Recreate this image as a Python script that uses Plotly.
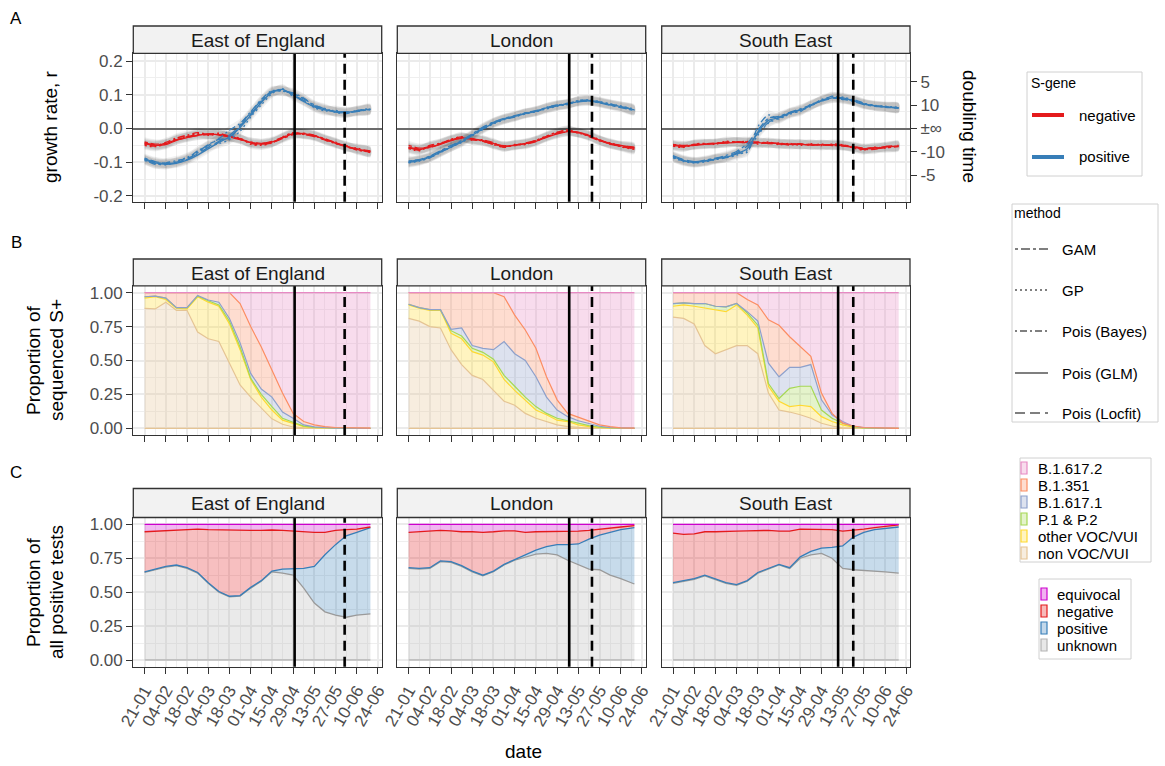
import math
import plotly.graph_objects as go

# ---------------------------------------------------------------- data
DATES = ["2021-01-21", "2021-01-28", "2021-02-04", "2021-02-11", "2021-02-18", "2021-02-25",
         "2021-03-04", "2021-03-11", "2021-03-18", "2021-03-25", "2021-04-01", "2021-04-08",
         "2021-04-15", "2021-04-22", "2021-04-29", "2021-05-06", "2021-05-13", "2021-05-20",
         "2021-05-27", "2021-06-03", "2021-06-10", "2021-06-19"]
REGIONS = ["East of England", "London", "South East"]
METHODS = ["GAM", "GP", "Pois (Bayes)", "Pois (GLM)", "Pois (Locfit)"]

# growth rate r by region, S-gene status and estimation method
EOE_NEG_GAM = [-0.040, -0.046, -0.044, -0.033, -0.024, -0.018, -0.016, -0.019, -0.024, -0.031, -0.040, -0.044, -0.041, -0.030, -0.018, -0.014, -0.020, -0.030, -0.042, -0.052, -0.061, -0.070]
EOE_NEG_GP = [-0.050, -0.054, -0.046, -0.030, -0.024, -0.015, -0.020, -0.016, -0.026, -0.028, -0.047, -0.050, -0.043, -0.025, -0.012, -0.018, -0.020, -0.035, -0.040, -0.056, -0.058, -0.072]
EOE_NEG_BAYES = [-0.047, -0.052, -0.041, -0.028, -0.020, -0.012, -0.017, -0.014, -0.024, -0.030, -0.044, -0.048, -0.042, -0.027, -0.013, -0.017, -0.021, -0.034, -0.045, -0.050, -0.064, -0.069]
EOE_NEG_GLM = [-0.045, -0.050, -0.048, -0.035, -0.027, -0.020, -0.017, -0.018, -0.022, -0.032, -0.042, -0.046, -0.040, -0.028, -0.015, -0.015, -0.022, -0.032, -0.043, -0.053, -0.062, -0.068]
EOE_NEG_LOCFIT = [-0.043, -0.048, -0.045, -0.034, -0.026, -0.021, -0.018, -0.020, -0.025, -0.033, -0.041, -0.044, -0.038, -0.026, -0.017, -0.017, -0.024, -0.033, -0.044, -0.054, -0.060, -0.066]

EOE_POS_GAM = [-0.088, -0.098, -0.103, -0.101, -0.092, -0.070, -0.048, -0.032, -0.030, 0.010, 0.047, 0.084, 0.110, 0.112, 0.104, 0.088, 0.070, 0.058, 0.049, 0.046, 0.050, 0.057]
EOE_POS_GP = [-0.095, -0.104, -0.108, -0.099, -0.085, -0.072, -0.052, -0.045, -0.033, -0.008, 0.034, 0.070, 0.103, 0.118, 0.095, 0.083, 0.062, 0.052, 0.054, 0.047, 0.053, 0.060]
EOE_POS_BAYES = [-0.091, -0.106, -0.102, -0.095, -0.088, -0.066, -0.050, -0.030, -0.005, 0.015, 0.050, 0.086, 0.112, 0.110, 0.106, 0.090, 0.068, 0.060, 0.048, 0.044, 0.054, 0.055]
EOE_POS_GLM = [-0.093, -0.102, -0.106, -0.103, -0.094, -0.079, -0.060, -0.041, -0.025, 0.003, 0.039, 0.077, 0.107, 0.116, 0.099, 0.080, 0.064, 0.055, 0.051, 0.049, 0.051, 0.058]
EOE_POS_LOCFIT = [-0.090, -0.100, -0.104, -0.100, -0.090, -0.075, -0.056, -0.038, -0.020, 0.008, 0.043, 0.080, 0.108, 0.113, 0.101, 0.083, 0.066, 0.056, 0.050, 0.049, 0.052, 0.056]

LON_NEG_GAM = [-0.050, -0.058, -0.056, -0.046, -0.034, -0.027, -0.030, -0.038, -0.047, -0.052, -0.051, -0.044, -0.036, -0.024, -0.014, -0.008, -0.012, -0.024, -0.036, -0.046, -0.053, -0.060]
LON_NEG_GP = [-0.060, -0.066, -0.052, -0.043, -0.033, -0.024, -0.035, -0.033, -0.048, -0.055, -0.047, -0.048, -0.035, -0.022, -0.012, -0.004, -0.014, -0.019, -0.037, -0.042, -0.054, -0.062]
LON_NEG_BAYES = [-0.058, -0.064, -0.050, -0.044, -0.032, -0.025, -0.034, -0.035, -0.042, -0.056, -0.048, -0.046, -0.039, -0.023, -0.011, -0.006, -0.013, -0.020, -0.033, -0.047, -0.052, -0.059]
LON_NEG_GLM = [-0.057, -0.063, -0.055, -0.047, -0.036, -0.028, -0.031, -0.036, -0.044, -0.053, -0.050, -0.045, -0.038, -0.026, -0.016, -0.009, -0.011, -0.021, -0.034, -0.044, -0.050, -0.057]
LON_NEG_LOCFIT = [-0.055, -0.060, -0.053, -0.045, -0.035, -0.029, -0.032, -0.038, -0.046, -0.051, -0.049, -0.043, -0.036, -0.025, -0.015, -0.010, -0.012, -0.022, -0.035, -0.045, -0.051, -0.055]

LON_POS_GAM = [-0.096, -0.092, -0.082, -0.066, -0.050, -0.035, -0.016, 0.004, 0.019, 0.030, 0.038, 0.046, 0.053, 0.062, 0.069, 0.075, 0.081, 0.082, 0.076, 0.069, 0.062, 0.053]
LON_POS_GP = [-0.102, -0.097, -0.086, -0.072, -0.054, -0.042, -0.022, -0.003, 0.014, 0.026, 0.035, 0.043, 0.050, 0.058, 0.066, 0.072, 0.082, 0.085, 0.080, 0.073, 0.066, 0.058]
LON_POS_BAYES = [-0.101, -0.094, -0.087, -0.069, -0.056, -0.038, -0.019, 0.000, 0.017, 0.027, 0.034, 0.046, 0.049, 0.063, 0.070, 0.071, 0.083, 0.084, 0.079, 0.072, 0.067, 0.054]
LON_POS_GLM = [-0.100, -0.095, -0.085, -0.070, -0.055, -0.040, -0.020, -0.001, 0.016, 0.028, 0.036, 0.044, 0.051, 0.061, 0.068, 0.073, 0.080, 0.083, 0.078, 0.071, 0.065, 0.055]
LON_POS_LOCFIT = [-0.098, -0.093, -0.083, -0.068, -0.052, -0.037, -0.018, 0.002, 0.018, 0.029, 0.037, 0.045, 0.052, 0.060, 0.067, 0.074, 0.079, 0.081, 0.077, 0.070, 0.064, 0.056]

SE_NEG_GAM = [-0.047, -0.050, -0.048, -0.046, -0.044, -0.042, -0.040, -0.040, -0.041, -0.042, -0.044, -0.046, -0.047, -0.048, -0.049, -0.050, -0.052, -0.056, -0.062, -0.060, -0.057, -0.054]
SE_NEG_GP = [-0.052, -0.056, -0.046, -0.044, -0.047, -0.038, -0.040, -0.038, -0.046, -0.040, -0.048, -0.044, -0.050, -0.045, -0.051, -0.046, -0.048, -0.058, -0.064, -0.055, -0.058, -0.050]
SE_NEG_BAYES = [-0.051, -0.055, -0.047, -0.045, -0.043, -0.040, -0.039, -0.043, -0.040, -0.045, -0.043, -0.049, -0.045, -0.050, -0.046, -0.051, -0.049, -0.053, -0.061, -0.062, -0.053, -0.053]
SE_NEG_GLM = [-0.050, -0.053, -0.050, -0.047, -0.045, -0.043, -0.041, -0.041, -0.042, -0.043, -0.045, -0.047, -0.047, -0.049, -0.048, -0.048, -0.050, -0.055, -0.060, -0.058, -0.055, -0.052]
SE_NEG_LOCFIT = [-0.048, -0.051, -0.049, -0.046, -0.044, -0.042, -0.041, -0.042, -0.043, -0.044, -0.046, -0.046, -0.046, -0.047, -0.048, -0.049, -0.051, -0.054, -0.058, -0.057, -0.054, -0.050]

SE_POS_GAM = [-0.085, -0.096, -0.099, -0.094, -0.088, -0.080, -0.068, -0.045, -0.005, 0.030, 0.036, 0.048, 0.058, 0.070, 0.084, 0.090, 0.088, 0.080, 0.071, 0.066, 0.064, 0.060]
SE_POS_GP = [-0.087, -0.098, -0.102, -0.099, -0.092, -0.087, -0.079, -0.065, -0.020, 0.016, 0.030, 0.042, 0.053, 0.066, 0.086, 0.094, 0.093, 0.085, 0.074, 0.069, 0.066, 0.063]
SE_POS_BAYES = [-0.082, -0.094, -0.101, -0.098, -0.091, -0.086, -0.074, -0.070, 0.005, 0.040, 0.028, 0.047, 0.050, 0.072, 0.080, 0.096, 0.086, 0.086, 0.075, 0.067, 0.063, 0.061]
SE_POS_GLM = [-0.083, -0.095, -0.100, -0.097, -0.090, -0.085, -0.075, -0.060, -0.011, 0.024, 0.032, 0.045, 0.055, 0.068, 0.083, 0.091, 0.091, 0.083, 0.073, 0.068, 0.065, 0.061]
SE_POS_LOCFIT = [-0.080, -0.092, -0.098, -0.096, -0.089, -0.083, -0.072, -0.052, -0.015, 0.018, 0.034, 0.046, 0.056, 0.069, 0.082, 0.089, 0.090, 0.082, 0.072, 0.067, 0.064, 0.062]

GROWTH = {
    "East of England": {
        "negative": [EOE_NEG_GAM, EOE_NEG_GP, EOE_NEG_BAYES, EOE_NEG_GLM, EOE_NEG_LOCFIT],
        "positive": [EOE_POS_GAM, EOE_POS_GP, EOE_POS_BAYES, EOE_POS_GLM, EOE_POS_LOCFIT]},
    "London": {
        "negative": [LON_NEG_GAM, LON_NEG_GP, LON_NEG_BAYES, LON_NEG_GLM, LON_NEG_LOCFIT],
        "positive": [LON_POS_GAM, LON_POS_GP, LON_POS_BAYES, LON_POS_GLM, LON_POS_LOCFIT]},
    "South East": {
        "negative": [SE_NEG_GAM, SE_NEG_GP, SE_NEG_BAYES, SE_NEG_GLM, SE_NEG_LOCFIT],
        "positive": [SE_POS_GAM, SE_POS_GP, SE_POS_BAYES, SE_POS_GLM, SE_POS_LOCFIT]},
}
CI_HALF_WIDTH = 0.014

# cumulative share of sequenced S+ samples (upper edge of each stacked lineage band)
EOE_SEQ_NONVOC = [0.885, 0.88, 0.93, 0.87, 0.87, 0.71, 0.66, 0.64, 0.48, 0.32, 0.23, 0.15, 0.07, 0.03, 0.01, 0.004, 0.002, 0.001, 0, 0, 0, 0]
EOE_SEQ_OTHER = [0.96, 0.97, 0.95, 0.885, 0.88, 0.97, 0.93, 0.90, 0.77, 0.58, 0.36, 0.23, 0.135, 0.06, 0.037, 0.012, 0.005, 0.002, 0.001, 0, 0, 0]
EOE_SEQ_P1 = [0.97, 0.975, 0.96, 0.89, 0.89, 0.975, 0.94, 0.91, 0.79, 0.60, 0.37, 0.25, 0.16, 0.074, 0.045, 0.016, 0.007, 0.003, 0.001, 0, 0, 0]
EOE_SEQ_B16171 = [0.97, 0.975, 0.96, 0.89, 0.89, 0.98, 0.946, 0.93, 0.81, 0.63, 0.405, 0.29, 0.23, 0.12, 0.074, 0.025, 0.01, 0.004, 0.002, 0.001, 0, 0]
EOE_SEQ_B1351 = [1, 1, 1, 1, 1, 1, 1, 1, 1, 0.92, 0.75, 0.60, 0.43, 0.26, 0.11, 0.05, 0.025, 0.012, 0.006, 0.003, 0.002, 0.001]

LON_SEQ_NONVOC = [0.81, 0.79, 0.75, 0.74, 0.58, 0.47, 0.39, 0.36, 0.28, 0.20, 0.17, 0.11, 0.074, 0.05, 0.025, 0.012, 0.005, 0.002, 0.001, 0, 0, 0]
LON_SEQ_OTHER = [0.91, 0.885, 0.87, 0.87, 0.70, 0.66, 0.565, 0.54, 0.49, 0.36, 0.28, 0.21, 0.135, 0.10, 0.06, 0.05, 0.025, 0.012, 0.005, 0.002, 0.001, 0]
LON_SEQ_P1 = [0.915, 0.89, 0.875, 0.875, 0.72, 0.68, 0.59, 0.56, 0.51, 0.39, 0.31, 0.23, 0.16, 0.11, 0.074, 0.056, 0.037, 0.02, 0.008, 0.003, 0.001, 0]
LON_SEQ_B16171 = [0.915, 0.89, 0.875, 0.875, 0.73, 0.74, 0.61, 0.59, 0.58, 0.64, 0.55, 0.50, 0.38, 0.23, 0.135, 0.086, 0.056, 0.037, 0.015, 0.005, 0.002, 0.001]
LON_SEQ_B1351 = [1, 1, 1, 1, 1, 1, 1, 1, 1, 0.97, 0.835, 0.725, 0.59, 0.38, 0.21, 0.11, 0.08, 0.05, 0.025, 0.012, 0.004, 0.002]

SE_SEQ_NONVOC = [0.82, 0.81, 0.77, 0.61, 0.55, 0.58, 0.61, 0.61, 0.55, 0.26, 0.135, 0.12, 0.10, 0.074, 0.037, 0.017, 0.004, 0.002, 0.001, 0, 0, 0]
SE_SEQ_OTHER = [0.90, 0.91, 0.90, 0.885, 0.87, 0.86, 0.91, 0.835, 0.74, 0.31, 0.20, 0.16, 0.17, 0.16, 0.086, 0.05, 0.025, 0.008, 0.003, 0.001, 0, 0]
SE_SEQ_P1 = [0.92, 0.925, 0.92, 0.92, 0.90, 0.895, 0.92, 0.85, 0.76, 0.33, 0.22, 0.295, 0.31, 0.31, 0.135, 0.074, 0.037, 0.012, 0.004, 0.001, 0, 0]
SE_SEQ_B16171 = [0.92, 0.925, 0.92, 0.92, 0.90, 0.895, 0.92, 0.86, 0.79, 0.48, 0.38, 0.45, 0.45, 0.47, 0.21, 0.10, 0.05, 0.015, 0.005, 0.002, 0.001, 0]
SE_SEQ_B1351 = [1, 1, 1, 1, 1, 1, 1, 0.95, 0.91, 0.80, 0.76, 0.675, 0.60, 0.53, 0.26, 0.11, 0.037, 0.017, 0.006, 0.003, 0.001, 0]

SEQ_TOTAL = 1.0
SEQ = {
    "East of England": [EOE_SEQ_NONVOC, EOE_SEQ_OTHER, EOE_SEQ_P1, EOE_SEQ_B16171, EOE_SEQ_B1351],
    "London": [LON_SEQ_NONVOC, LON_SEQ_OTHER, LON_SEQ_P1, LON_SEQ_B16171, LON_SEQ_B1351],
    "South East": [SE_SEQ_NONVOC, SE_SEQ_OTHER, SE_SEQ_P1, SE_SEQ_B16171, SE_SEQ_B1351],
}
LINEAGES = ["non VOC/VUI", "other VOC/VUI", "P.1 & P.2", "B.1.617.1", "B.1.351", "B.1.617.2"]
LINEAGE_COLORS = ["#E5C494", "#FFD92F", "#A6D854", "#8DA0CB", "#FC8D62", "#E78AC3"]

# cumulative share of all positive tests by S-gene status (upper edge of each band)
EOE_TEST_UNKNOWN = [0.645, 0.665, 0.685, 0.695, 0.675, 0.64, 0.565, 0.50, 0.465, 0.47, 0.53, 0.58, 0.65, 0.64, 0.625, 0.53, 0.42, 0.355, 0.33, 0.315, 0.33, 0.34]
EOE_TEST_POSITIVE = [0.65, 0.67, 0.69, 0.70, 0.68, 0.645, 0.57, 0.505, 0.47, 0.475, 0.535, 0.585, 0.655, 0.67, 0.675, 0.675, 0.69, 0.775, 0.85, 0.915, 0.94, 0.975]
EOE_TEST_NEGATIVE = [0.945, 0.95, 0.955, 0.96, 0.965, 0.965, 0.96, 0.958, 0.955, 0.955, 0.955, 0.955, 0.958, 0.955, 0.95, 0.94, 0.94, 0.94, 0.955, 0.96, 0.965, 0.98]

LON_TEST_UNKNOWN = [0.675, 0.67, 0.675, 0.725, 0.72, 0.69, 0.65, 0.62, 0.65, 0.70, 0.735, 0.76, 0.78, 0.785, 0.775, 0.735, 0.70, 0.67, 0.665, 0.625, 0.60, 0.56]
LON_TEST_POSITIVE = [0.68, 0.675, 0.68, 0.73, 0.725, 0.695, 0.655, 0.625, 0.655, 0.705, 0.74, 0.775, 0.81, 0.835, 0.85, 0.85, 0.855, 0.89, 0.92, 0.94, 0.96, 0.975]
LON_TEST_NEGATIVE = [0.94, 0.945, 0.95, 0.955, 0.952, 0.945, 0.945, 0.94, 0.945, 0.952, 0.952, 0.94, 0.945, 0.945, 0.945, 0.945, 0.95, 0.955, 0.965, 0.975, 0.98, 0.99]

SE_TEST_UNKNOWN = [0.565, 0.58, 0.595, 0.62, 0.59, 0.565, 0.55, 0.58, 0.64, 0.67, 0.70, 0.675, 0.75, 0.775, 0.785, 0.75, 0.675, 0.665, 0.66, 0.66, 0.65, 0.64]
SE_TEST_POSITIVE = [0.57, 0.585, 0.60, 0.625, 0.595, 0.57, 0.555, 0.585, 0.645, 0.675, 0.705, 0.68, 0.76, 0.80, 0.825, 0.83, 0.84, 0.905, 0.94, 0.96, 0.97, 0.98]
SE_TEST_NEGATIVE = [0.935, 0.925, 0.93, 0.945, 0.945, 0.95, 0.95, 0.952, 0.955, 0.955, 0.95, 0.95, 0.965, 0.962, 0.962, 0.96, 0.95, 0.955, 0.965, 0.975, 0.985, 0.995]

TEST_TOTAL = 1.0
TESTS = {
    "East of England": [EOE_TEST_UNKNOWN, EOE_TEST_POSITIVE, EOE_TEST_NEGATIVE],
    "London": [LON_TEST_UNKNOWN, LON_TEST_POSITIVE, LON_TEST_NEGATIVE],
    "South East": [SE_TEST_UNKNOWN, SE_TEST_POSITIVE, SE_TEST_NEGATIVE],
}
SGENE_STATES = ["unknown", "positive", "negative", "equivocal"]
SGENE_STATE_COLORS = ["#B3B3B3", "#377EB8", "#E41A1C", "#CD00CD"]

# reference dates marked in every panel
SOLID_LINE_DATES = ["2021-04-30", "2021-05-07", "2021-05-10"]
DASHED_LINE_DATES = ["2021-06-02", "2021-05-22", "2021-05-20"]

GROWTH_TICKS = [-0.2, -0.1, 0.0, 0.1, 0.2]
GROWTH_TICK_TEXT = ["-0.2", "-0.1", "0.0", "0.1", "0.2"]
DOUBLING_TIMES = [5, 10, None, -10, -5]
DOUBLING_TEXT = ["5", "10", "\u00b1\u221e", "-10", "-5"]
PROP_TICKS = [0, 0.25, 0.5, 0.75, 1.0]
PROP_TICK_TEXT = ["0.00", "0.25", "0.50", "0.75", "1.00"]

GENE_COLORS = {"negative": "#E41A1C", "positive": "#377EB8"}
METHOD_DASH = {
    "GAM": "3px,3px,9px,3px",
    "GP": "2px,3px",
    "Pois (Bayes)": "2px,3px,7px,3px",
    "Pois (GLM)": "solid",
    "Pois (Locfit)": "10px,5px",
}

# ---------------------------------------------------------------- layout geometry
W, H = 1165, 766
FONT = "Liberation Sans, Arial, sans-serif"
COLS = [(133.3, 381.7), (397.3, 645.7), (661.7, 910.0)]
ROWS = [(53.3, 201.7), (285.9, 435.1), (517.5, 666.8)]
STRIPS = [(26.0, 53.3), (259.0, 285.9), (488.5, 517.5)]
X_RANGE = ["2021-01-13 13:00", "2021-06-26 11:00"]
A_RANGE = [-0.217, 0.223]
P_RANGE = [-0.05, 1.05]
DAY_MS = 86400000


def fx(p):
    return p / W


def fy(p):
    return 1 - p / H


def rgba(hex_color, a):
    h = hex_color.lstrip("#")
    return "rgba(%d,%d,%d,%.3f)" % (int(h[0:2], 16), int(h[2:4], 16), int(h[4:6], 16), a)


def xid(k):
    return "x" if k == 1 else "x%d" % k


def yid(k):
    return "y" if k == 1 else "y%d" % k


fig = go.Figure()

# ---------------------------------------------------------------- row A: growth rates
for c, region in enumerate(REGIONS):
    ax = dict(xaxis=xid(c + 1), yaxis=yid(c + 1))
    for gene in ["negative", "positive"]:
        for vals in GROWTH[region][gene]:
            hi = [v + CI_HALF_WIDTH for v in vals]
            lo = [v - CI_HALF_WIDTH for v in vals]
            fig.add_trace(go.Scatter(
                x=DATES + DATES[::-1], y=hi + lo[::-1], fill="toself",
                fillcolor="rgba(0,0,0,0.05)", line=dict(width=0, shape="spline", smoothing=0.8),
                mode="lines", hoverinfo="skip", showlegend=False, **ax))
    for gene in ["negative", "positive"]:
        for m, vals in zip(METHODS, GROWTH[region][gene]):
            fig.add_trace(go.Scatter(
                x=DATES, y=vals, mode="lines",
                line=dict(color=GENE_COLORS[gene], width=1.3, dash=METHOD_DASH[m],
                          shape="spline", smoothing=0.8),
                name="%s %s" % (gene, m), showlegend=False, **ax))

# invisible anchor so the doubling-time axis is drawn
fig.add_trace(go.Scatter(x=[DATES[0]], y=[0], xaxis="x3", yaxis="y10", mode="markers",
                         marker=dict(opacity=0), hoverinfo="skip", showlegend=False))

# ---------------------------------------------------------------- row B: sequenced lineages
for c, region in enumerate(REGIONS):
    k = 3 + c + 1
    ax = dict(xaxis=xid(k), yaxis=yid(k))
    tops = SEQ[region] + [[SEQ_TOTAL] * len(DATES)]
    fig.add_trace(go.Scatter(x=DATES, y=[0] * len(DATES), mode="lines",
                             line=dict(color=LINEAGE_COLORS[0], width=1.2),
                             hoverinfo="skip", showlegend=False, **ax))
    for name, col, top in zip(LINEAGES, LINEAGE_COLORS, tops):
        fig.add_trace(go.Scatter(x=DATES, y=top, mode="lines", fill="tonexty",
                                 fillcolor=rgba(col, 0.3), line=dict(color=col, width=1.2),
                                 name=name, showlegend=False, **ax))

# ---------------------------------------------------------------- row C: S-gene status
for c, region in enumerate(REGIONS):
    k = 6 + c + 1
    ax = dict(xaxis=xid(k), yaxis=yid(k))
    tops = TESTS[region] + [[TEST_TOTAL] * len(DATES)]
    fig.add_trace(go.Scatter(x=DATES, y=[0] * len(DATES), mode="lines",
                             line=dict(color="#A6A6A6", width=1.2),
                             hoverinfo="skip", showlegend=False, **ax))
    for name, col, top in zip(SGENE_STATES, SGENE_STATE_COLORS, tops):
        lc = "#9A9A9A" if name == "unknown" else col
        fig.add_trace(go.Scatter(x=DATES, y=top, mode="lines", fill="tonexty",
                                 fillcolor=rgba(col, 0.28), line=dict(color=lc, width=1.3),
                                 name=name, showlegend=False, **ax))

# ---------------------------------------------------------------- axes
layout = {}
tick_font = dict(family=FONT, size=17, color="#4D4D4D")
for r in range(3):
    for c in range(3):
        k = r * 3 + c + 1
        xname = "xaxis" if k == 1 else "xaxis%d" % k
        yname = "yaxis" if k == 1 else "yaxis%d" % k
        layout[xname] = dict(
            domain=[fx(COLS[c][0]), fx(COLS[c][1])], anchor=yid(k), type="date",
            range=X_RANGE, tick0="2021-01-21", dtick=14 * DAY_MS, tickformat="%d-%m",
            showticklabels=(r == 2), tickangle=-60, tickfont=tick_font,
            ticks="outside", ticklen=6, tickwidth=1.3, tickcolor="#333333",
            showgrid=True, gridcolor="#EBEBEB", gridwidth=1.8,
            minor=dict(tick0="2021-01-14", dtick=7 * DAY_MS, showgrid=True,
                       gridcolor="#EFEFEF", gridwidth=1.0),
            showline=True, linecolor="#333333", linewidth=1.3, mirror=True,
            zeroline=False, fixedrange=True, automargin=False)
        ydict = dict(
            domain=[fy(ROWS[r][1]), fy(ROWS[r][0])], anchor=xid(k),
            showgrid=True, gridcolor="#EBEBEB", gridwidth=1.8,
            showline=True, linecolor="#333333", linewidth=1.3, mirror=True,
            tickfont=tick_font, fixedrange=True, automargin=False)
        if r == 0:
            ydict.update(range=A_RANGE, tickvals=GROWTH_TICKS, ticktext=GROWTH_TICK_TEXT,
                         minor=dict(dtick=0.05, tick0=-0.25, showgrid=True,
                                    gridcolor="#EFEFEF", gridwidth=1.0),
                         zeroline=True, zerolinecolor="#6B6B6B", zerolinewidth=2)
        else:
            ydict.update(range=P_RANGE, tickvals=PROP_TICKS, ticktext=PROP_TICK_TEXT,
                         minor=dict(dtick=0.125, tick0=-0.125, showgrid=True,
                                    gridcolor="#EFEFEF", gridwidth=1.0),
                         zeroline=False)
        if c == 0:
            ydict.update(ticks="outside", ticklen=6, tickwidth=1.3, tickcolor="#333333",
                         showticklabels=True)
        else:
            ydict.update(ticks="", showticklabels=False)
        layout[yname] = ydict

# right-hand doubling-time scale on the top-right panel
doubling_vals = [0.0 if t is None else math.log(2) / t for t in DOUBLING_TIMES]
layout["yaxis10"] = dict(
    overlaying="y3", side="right", anchor="x3", range=A_RANGE,
    tickvals=doubling_vals, ticktext=DOUBLING_TEXT, tickfont=tick_font,
    ticks="outside", ticklen=6, tickwidth=1.3, tickcolor="#333333",
    showgrid=False, zeroline=False, showline=False, fixedrange=True, automargin=False)

# ---------------------------------------------------------------- shapes and annotations
shapes = []
annotations = []

for r in range(3):
    for c in range(3):
        k = r * 3 + c + 1
        for d, dash in ((SOLID_LINE_DATES[c], "solid"), (DASHED_LINE_DATES[c], "10px,6px")):
            shapes.append(dict(type="line", xref=xid(k), yref="%s domain" % yid(k),
                               x0=d, x1=d, y0=0, y1=1, layer="above",
                               line=dict(color="black", width=2.6, dash=dash)))
        # facet strip
        shapes.append(dict(type="rect", xref="paper", yref="paper",
                           x0=fx(COLS[c][0]), x1=fx(COLS[c][1]),
                           y0=fy(STRIPS[r][1]), y1=fy(STRIPS[r][0]),
                           fillcolor="#F2F2F2", line=dict(color="#333333", width=1.3)))
        annotations.append(dict(xref="paper", yref="paper",
                                x=fx((COLS[c][0] + COLS[c][1]) / 2),
                                y=fy((STRIPS[r][0] + STRIPS[r][1]) / 2 + 1),
                                text=REGIONS[c], showarrow=False, xanchor="center",
                                yanchor="middle",
                                font=dict(family=FONT, size=19, color="#1A1A1A")))


def text(x, y, s, size=19, angle=0, xanchor="center", color="black"):
    annotations.append(dict(xref="paper", yref="paper", x=fx(x), y=fy(y), text=s,
                            showarrow=False, textangle=angle, xanchor=xanchor,
                            yanchor="middle", font=dict(family=FONT, size=size, color=color)))


# panel letters
text(16, 18, "A", size=17)
text(16, 243, "B", size=17)
text(16, 472, "C", size=17)

# axis titles
text(50, 127, "growth rate, r", angle=-90)
text(33, 360, "Proportion of", angle=-90)
text(56, 360, "sequenced S+", angle=-90)
text(33, 592, "Proportion of", angle=-90)
text(56, 592, "all positive tests", angle=-90)
text(970, 127, "doubling time", angle=90)
text(523, 751, "date")

# legend: S-gene
shapes.append(dict(type="rect", xref="paper", yref="paper", x0=fx(1027), x1=fx(1142),
                   y0=fy(176), y1=fy(72), line=dict(color="#D0D0D0", width=1)))
text(1029, 83, "S-gene", size=14, xanchor="left")
for yy, gene in ((115, "negative"), (157, "positive")):
    shapes.append(dict(type="line", xref="paper", yref="paper", x0=fx(1032), x1=fx(1064),
                       y0=fy(yy), y1=fy(yy), line=dict(color=GENE_COLORS[gene], width=4)))
    text(1077, yy, gene, size=15, xanchor="left")

# legend: method
shapes.append(dict(type="rect", xref="paper", yref="paper", x0=fx(1012), x1=fx(1158),
                   y0=fy(422), y1=fy(204), line=dict(color="#D0D0D0", width=1)))
text(1012, 213, "method", size=14, xanchor="left")
for yy, m in zip([249, 290, 331, 373, 413], METHODS):
    shapes.append(dict(type="line", xref="paper", yref="paper", x0=fx(1015), x1=fx(1048),
                       y0=fy(yy), y1=fy(yy), line=dict(color="black", width=1.2,
                                                       dash=METHOD_DASH[m])))
    text(1060, yy, m, size=15, xanchor="left")

# legend: lineages
LEG_STEP = 17
shapes.append(dict(type="rect", xref="paper", yref="paper", x0=fx(1020), x1=fx(1151),
                   y0=fy(562), y1=fy(458), line=dict(color="#D0D0D0", width=1)))
for i, (name, col) in enumerate(zip(LINEAGES[::-1], LINEAGE_COLORS[::-1])):
    yy = 468 + i * LEG_STEP
    shapes.append(dict(type="rect", xref="paper", yref="paper", x0=fx(1021), x1=fx(1027),
                       y0=fy(yy + 6), y1=fy(yy - 6), fillcolor=rgba(col, 0.3),
                       line=dict(color=col, width=1.2)))
    text(1036, yy, name, size=15, xanchor="left")

# legend: S-gene status
shapes.append(dict(type="rect", xref="paper", yref="paper", x0=fx(1039), x1=fx(1131),
                   y0=fy(659), y1=fy(579), line=dict(color="#D0D0D0", width=1)))
for i, (name, col) in enumerate(zip(SGENE_STATES[::-1], SGENE_STATE_COLORS[::-1])):
    yy = 594 + i * LEG_STEP
    shapes.append(dict(type="rect", xref="paper", yref="paper", x0=fx(1041), x1=fx(1047),
                       y0=fy(yy + 6), y1=fy(yy - 6), fillcolor=rgba(col, 0.3),
                       line=dict(color=col, width=1.2)))
    text(1055, yy, name, size=15, xanchor="left")

fig.update_layout(
    width=W, height=H, margin=dict(l=0, r=0, t=0, b=0, autoexpand=False),
    paper_bgcolor="white", plot_bgcolor="white", showlegend=False,
    font=dict(family=FONT, size=17, color="black"),
    shapes=shapes, annotations=annotations, **layout)

fig.write_html("out.html")
